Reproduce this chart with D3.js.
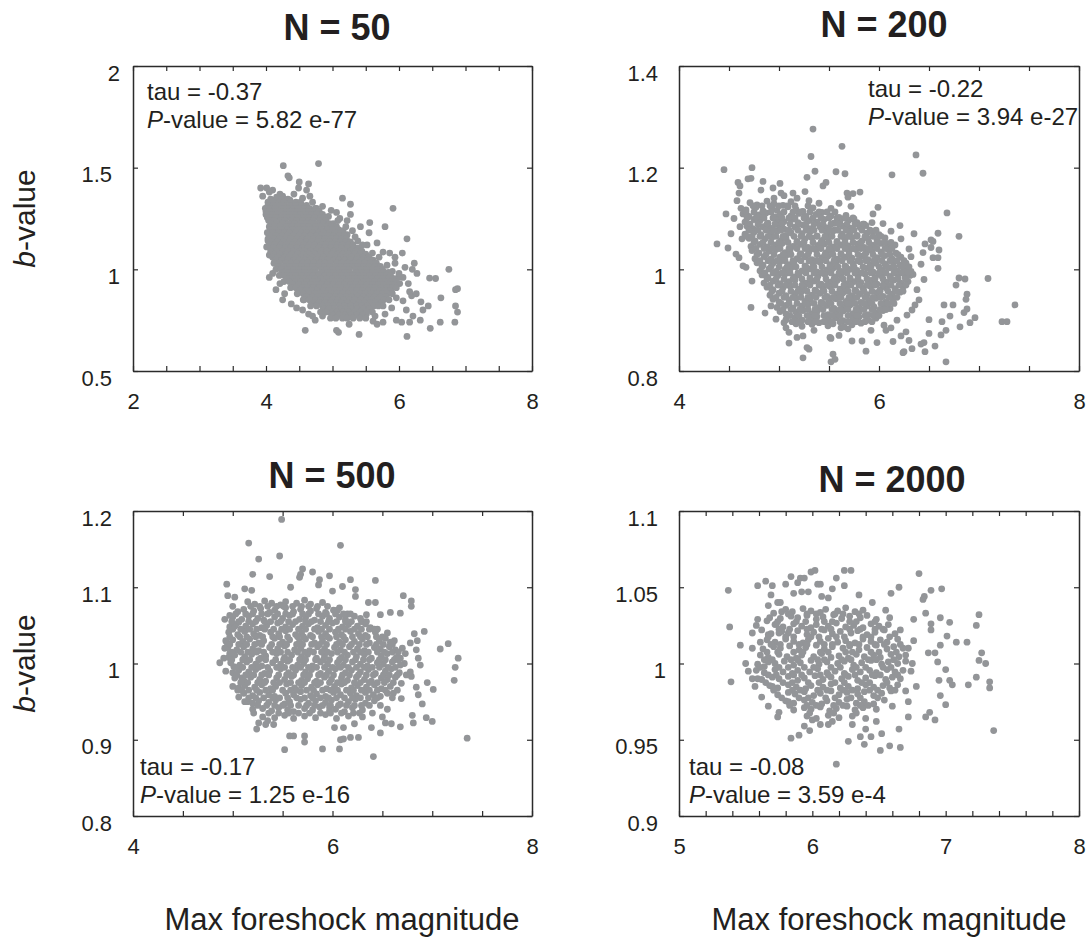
<!DOCTYPE html>
<html>
<head>
<meta charset="utf-8">
<script src="https://cdn.jsdelivr.net/npm/d3@7"></script>
<style>
  body { margin: 0; background: #fff; }
  text { font-family: "Liberation Sans", Arial, Helvetica, sans-serif; fill: #231f20; }
</style>
</head>
<body>
<script>
// ---- datos ----
const titles = ["N = 50", "N = 200", "N = 500", "N = 2000"];
const tauVals = ["-0.37", "-0.22", "-0.17", "-0.08"];
const pVals = ["5.82 e-77", "3.94 e-27", "1.25 e-16", "3.59 e-4"];
const xDomains = [[2, 8], [4, 8], [4, 8], [5, 8]];
const yDomains = [[0.5, 2], [0.8, 1.4], [0.8, 1.2], [0.9, 1.1]];
const xTickLabels = [[2, 4, 6, 8], [4, 6, 8], [4, 6, 8], [5, 6, 7, 8]];
const yTickLabels = [[0.5, 1, 1.5, 2], [0.8, 1, 1.2, 1.4], [0.8, 0.9, 1, 1.1, 1.2], [0.9, 0.95, 1, 1.05, 1.1]];
const xMinorStep = [0.5, 0.5, 0.5, 0.2];

// puntos sueltos [magnitud, b]
const p1Points = [[4.26,1.51],[4.79,1.52],[3.92,1.40],[4.01,1.40],[4.10,1.39],[4.33,1.46],[4.35,1.45],[4.50,1.43],[4.64,1.42],[4.49,1.40],[4.61,1.39],[4.66,1.36],[5.15,1.35],[5.27,1.32],[5.91,1.30],[5.06,1.28],[5.27,1.27],[5.11,1.25],[4.94,1.26],[5.22,1.24],[5.42,1.21],[5.56,1.23],[5.79,1.21],[5.55,1.18],[5.22,1.17],[5.34,1.16],[6.12,1.15],[5.67,1.13],[5.52,1.12],[5.76,1.085],[5.86,1.08],[6.05,1.08],[5.94,1.06],[6.23,1.03],[6.75,1.00],[6.46,0.957],[6.55,0.955],[6.20,1.00],[6.27,0.98],[6.88,0.905],[6.85,0.90],[6.63,0.86],[6.85,0.82],[6.88,0.79],[6.84,0.74],[6.62,0.74],[6.47,0.71],[6.12,0.67],[6.32,0.75],[6.16,0.74],[6.33,0.84],[6.44,0.82],[6.19,0.87],[6.16,0.89],[6.21,0.77],[6.04,0.74],[5.67,0.73],[5.40,0.68],[5.25,0.73],[5.09,0.69],[5.06,0.70],[4.59,0.70],[4.74,0.75],[4.85,0.77],[4.64,0.78],[4.46,0.81],[4.28,0.88],[4.21,0.93],[4.10,0.98],[4.05,1.07],[4.01,1.11],[4.03,1.14],[4.00,1.27],[4.01,1.30],[4.14,1.30],[4.06,1.24],[4.10,1.34],[4.21,1.37],[4.16,1.355],[4.36,1.34],[4.51,1.32],[4.76,1.30],[4.81,1.23],[4.91,1.19],[5.16,1.19],[5.01,1.10],[5.31,1.10],[5.46,1.075],[5.51,1.04],[5.66,1.03],[5.76,0.99],[5.86,0.96],[6.01,0.93],[6.06,0.96],[5.96,0.86],[5.89,0.81],[5.79,0.78],[5.64,0.77],[5.51,0.78],[5.36,0.79],[5.16,0.78],[4.96,0.79],[4.86,0.80],[4.56,0.85],[5.94,1.03],[6.09,1.01],[5.99,0.96],[6.14,0.93],[6.06,0.845],[6.26,0.88],[6.11,0.80],[5.96,0.75],[5.76,0.74],[6.36,0.80],[5.61,0.745],
  [3.95,1.36],[4.05,1.38],[4.25,1.36],[4.42,1.37],[4.55,1.35],[4.70,1.33],[4.85,1.31],[4.98,1.29],[5.08,1.24],[5.20,1.21],[5.30,1.19],[5.38,1.14],[5.45,1.12],[5.60,1.08],[5.70,1.06],[5.82,1.02],[5.90,0.99],[6.00,0.98],[4.05,0.96],[4.15,0.90],[4.25,0.85],[4.38,0.83],[4.55,0.80],[4.70,0.77]];

// nucleo denso del panel N = 50: [b, [magnitudes]]
const p1Rows = [
  [1.345, [4.07,4.16,4.24,4.33]],
  [1.33,  [4.03,4.10,4.20,4.27,4.37,4.45,4.52]],
  [1.315, [4.03,4.11,4.19,4.28,4.36,4.45,4.53,4.61]],
  [1.30,  [3.99,4.07,4.14,4.24,4.31,4.41,4.48,4.58,4.65,4.74]],
  [1.285, [4.00,4.05,4.14,4.22,4.31,4.39,4.47,4.56,4.64,4.73,4.80]],
  [1.27,  [4.01,4.10,4.17,4.27,4.35,4.42,4.52,4.60,4.69,4.76,4.85]],
  [1.255, [4.02,4.06,4.15,4.23,4.31,4.40,4.48,4.57,4.65,4.74,4.83,4.88]],
  [1.24,  [4.04,4.12,4.22,4.29,4.39,4.46,4.55,4.64,4.71,4.81,4.90]],
  [1.225, [4.08,4.17,4.26,4.34,4.43,4.52,4.60,4.69,4.78,4.86,4.95,5.01]],
  [1.21,  [4.05,4.14,4.21,4.31,4.39,4.48,4.57,4.64,4.74,4.81,4.91,4.98,5.06]],
  [1.195, [4.06,4.14,4.23,4.32,4.40,4.49,4.57,4.66,4.75,4.83,4.92,5.00,5.09]],
  [1.18,  [4.02,4.10,4.19,4.28,4.35,4.45,4.53,4.61,4.70,4.79,4.86,4.96,5.04,5.13]],
  [1.165, [4.06,4.15,4.24,4.32,4.41,4.50,4.58,4.67,4.76,4.84,4.93,5.02,5.10,5.18]],
  [1.15,  [4.03,4.12,4.20,4.30,4.37,4.47,4.55,4.62,4.72,4.80,4.88,4.98,5.06,5.14,5.21]],
  [1.135, [4.08,4.17,4.26,4.35,4.43,4.52,4.61,4.69,4.78,4.87,4.95,5.04,5.12,5.20,5.27]],
  [1.12,  [4.05,4.13,4.23,4.30,4.40,4.48,4.57,4.65,4.73,4.83,4.90,4.99,5.08,5.15,5.24,5.31]],
  [1.105, [4.11,4.20,4.29,4.37,4.46,4.55,4.63,4.72,4.80,4.88,4.97,5.06,5.14,5.22,5.31,5.39]],
  [1.09,  [4.07,4.16,4.25,4.33,4.41,4.51,4.58,4.67,4.76,4.84,4.92,5.02,5.09,5.18,5.27,5.35,5.44]],
  [1.075, [4.12,4.21,4.30,4.39,4.48,4.56,4.65,4.74,4.82,4.91,4.99,5.08,5.16,5.25,5.33,5.42,5.50]],
  [1.06,  [4.10,4.18,4.28,4.35,4.44,4.53,4.61,4.69,4.79,4.86,4.95,5.04,5.12,5.21,5.29,5.38,5.46,5.55]],
  [1.045, [4.14,4.24,4.33,4.42,4.50,4.59,4.67,4.76,4.85,4.93,5.02,5.10,5.19,5.27,5.36,5.44,5.53,5.61]],
  [1.03,  [4.12,4.20,4.30,4.38,4.46,4.56,4.63,4.72,4.81,4.89,4.97,5.07,5.14,5.23,5.32,5.40,5.48,5.57,5.65]],
  [1.015, [4.18,4.27,4.36,4.45,4.53,4.62,4.70,4.79,4.88,4.96,5.05,5.13,5.21,5.30,5.38,5.47,5.55,5.64,5.72]],
  [1.00,  [4.15,4.23,4.32,4.41,4.49,4.58,4.66,4.74,4.84,4.91,5.00,5.09,5.17,5.25,5.35,5.42,5.51,5.60,5.68,5.75]],
  [0.985, [4.24,4.33,4.41,4.50,4.58,4.67,4.75,4.84,4.93,5.01,5.10,5.18,5.26,5.35,5.43,5.52,5.60,5.69,5.77,5.84]],
  [0.97,  [4.20,4.28,4.38,4.45,4.54,4.63,4.71,4.79,4.89,4.96,5.05,5.14,5.22,5.30,5.40,5.47,5.56,5.65,5.73,5.81,5.87]],
  [0.955, [4.31,4.40,4.49,4.57,4.66,4.74,4.83,4.91,5.00,5.08,5.16,5.25,5.33,5.42,5.51,5.59,5.68,5.76,5.84,5.91]],
  [0.94,  [4.27,4.35,4.45,4.52,4.61,4.70,4.78,4.86,4.96,5.03,5.12,5.21,5.29,5.37,5.47,5.54,5.63,5.72,5.80,5.88,5.95]],
  [0.925, [4.41,4.50,4.58,4.67,4.75,4.84,4.92,5.01,5.10,5.18,5.27,5.35,5.43,5.52,5.60,5.69,5.77,5.86,5.93]],
  [0.91,  [4.37,4.45,4.55,4.62,4.71,4.80,4.88,4.96,5.06,5.13,5.22,5.31,5.39,5.47,5.57,5.64,5.73,5.82,5.90,5.96]],
  [0.895, [4.51,4.60,4.69,4.77,4.86,4.94,5.03,5.11,5.20,5.28,5.37,5.45,5.54,5.62,5.71,5.79,5.87]],
  [0.88,  [4.47,4.56,4.65,4.73,4.81,4.91,4.98,5.07,5.16,5.24,5.32,5.42,5.49,5.58,5.67,5.75,5.83,5.90]],
  [0.865, [4.61,4.70,4.78,4.87,4.95,5.04,5.12,5.21,5.29,5.38,5.46,5.55,5.63,5.72,5.80]],
  [0.85,  [4.57,4.65,4.75,4.82,4.91,5.00,5.08,5.16,5.26,5.33,5.42,5.51,5.59,5.67,5.77,5.85]],
  [0.835, [4.72,4.80,4.89,4.97,5.06,5.14,5.23,5.31,5.40,5.48,5.57,5.65,5.73]],
  [0.82,  [4.67,4.76,4.85,4.93,5.01,5.11,5.18,5.27,5.36,5.44,5.52,5.62,5.69,5.76]],
  [0.805, [4.86,4.95,5.03,5.12,5.20,5.29,5.37,5.46,5.55]],
  [0.79,  [4.82,4.90,5.00,5.07,5.16,5.25,5.33,5.41,5.51,5.60]],
  [0.775, [5.01,5.10,5.19,5.27,5.36,5.45]],
  [0.76,  [4.97,5.05,5.15,5.22,5.31,5.41,5.50]]
];

const p2Points = [[5.34,1.276],[5.63,1.242],[6.37,1.225],[5.32,1.222],[4.45,1.196],[4.73,1.20],[5.36,1.193],[6.44,1.189],[5.57,1.192],[5.66,1.188],[6.13,1.186],[5.28,1.181],[4.59,1.171],[4.61,1.164],[4.69,1.178],[4.72,1.179],[4.84,1.173],[5.01,1.169],[5.47,1.171],[5.44,1.164],[4.94,1.16],[4.82,1.156],[5.02,1.15],[5.14,1.15],[5.26,1.153],[5.68,1.15],[5.81,1.152],[5.74,1.149],[5.69,1.142],[5.72,1.124],[5.99,1.122],[4.58,1.135],[4.47,1.109],[6.68,1.111],[5.94,1.109],[5.67,1.106],[5.75,1.099],[5.85,1.089],[5.93,1.092],[6.04,1.09],[6.21,1.086],[6.80,1.065],[6.59,1.071],[6.52,1.058],[6.54,1.055],[6.60,1.038],[6.52,1.043],[6.44,1.033],[6.54,1.023],[6.59,1.023],[6.59,1.002],[6.32,1.025],[4.38,1.05],[4.49,1.042],[4.61,1.084],[4.60,1.023],[4.64,1.007],[4.67,1.004],[4.73,0.977],[4.72,0.925],[4.86,0.914],[6.80,0.983],[6.86,0.981],[7.09,0.982],[6.77,0.969],[7.36,0.930],[7.23,0.897],[7.28,0.897],[6.88,0.951],[6.87,0.941],[6.74,0.930],[6.65,0.930],[6.88,0.922],[6.85,0.915],[6.96,0.905],[6.91,0.895],[6.81,0.887],[6.71,0.908],[6.63,0.897],[6.67,0.880],[6.62,0.871],[6.67,0.818],[6.56,0.849],[6.50,0.874],[6.50,0.901],[6.45,0.856],[6.46,0.838],[6.42,0.853],[6.33,0.844],[6.25,0.838],[6.24,0.836],[6.30,0.860],[6.27,0.877],[6.22,0.869],[6.14,0.858],[6.07,0.880],[5.98,0.856],[5.87,0.839],[5.83,0.859],[5.73,0.859],[5.69,0.883],[5.60,0.870],[5.52,0.864],[5.51,0.866],[5.54,0.833],[5.52,0.818],[5.56,0.823],[5.24,0.826],[5.28,0.846],[5.30,0.843],[5.24,0.869],[5.18,0.866],[5.10,0.855],[5.10,0.876],[5.07,0.885],[4.97,0.902],[4.92,0.928],[6.34,0.99],[6.38,0.96],[6.36,0.93],[6.28,0.91],[6.18,0.90],[6.42,1.01],[6.30,1.04],[6.22,1.06],[6.12,1.075],[6.35,1.07],
  [4.55,1.10],[4.52,1.07],[4.57,1.03],[4.62,1.12],[4.60,1.15],[4.63,1.06],[4.95,1.14],[5.05,1.145],[5.18,1.14],[5.30,1.135],[5.40,1.13],[5.52,1.12],[5.60,1.13],[6.45,0.98],[6.40,0.94],[6.33,0.92],[6.46,1.05],[5.05,0.895],[5.35,0.88],[5.62,0.885],[5.92,0.88],[6.05,0.89],[6.12,0.885]];

// nucleo del panel N = 200
const p2Core = [
  [4.71,1.131],[4.78,1.127],[4.88,1.134],[4.95,1.129],[5.04,1.126],[5.12,1.133],
  [4.67,1.117],[4.77,1.122],[4.84,1.115],[4.93,1.120],[4.98,1.116],[5.09,1.123],[5.17,1.118],[5.24,1.114],[5.34,1.121],
  [4.64,1.109],[4.70,1.104],[4.80,1.107],[4.87,1.111],[4.96,1.103],[5.01,1.108],[5.12,1.105],[5.20,1.110],[5.27,1.104],[5.37,1.108],[5.43,1.112],[5.52,1.105],[5.60,1.102],
  [4.66,1.093],[4.75,1.098],[4.81,1.096],[4.89,1.091],[4.99,1.097],[5.05,1.094],[5.14,1.099],[5.19,1.092],[5.30,1.096],[5.38,1.093],[5.45,1.098],[5.55,1.091],[5.61,1.095],[5.70,1.097],[5.78,1.092],
  [4.68,1.085],[4.74,1.080],[4.84,1.084],[4.91,1.081],[5.00,1.086],[5.05,1.079],[5.16,1.083],[5.24,1.087],[5.31,1.080],[5.41,1.084],[5.47,1.082],[5.56,1.078],[5.64,1.085],[5.71,1.081],[5.81,1.083],[5.87,1.086],
  [4.66,1.069],[4.75,1.073],[4.82,1.068],[4.92,1.071],[4.98,1.075],[5.07,1.067],[5.12,1.072],[5.23,1.070],[5.31,1.074],[5.38,1.066],[5.48,1.071],[5.54,1.075],[5.63,1.069],[5.71,1.073],[5.78,1.067],[5.88,1.071],[5.94,1.074],[6.00,1.068],
  [4.70,1.061],[4.76,1.056],[4.86,1.060],[4.93,1.063],[5.02,1.057],[5.07,1.061],[5.18,1.055],[5.26,1.060],[5.33,1.062],[5.43,1.057],[5.49,1.061],[5.58,1.055],[5.66,1.059],[5.73,1.063],[5.83,1.056],[5.89,1.060],[5.98,1.058],[6.06,1.062],
  [4.72,1.045],[4.81,1.049],[4.88,1.044],[4.97,1.048],[5.03,1.051],[5.14,1.045],[5.22,1.049],[5.29,1.043],[5.39,1.047],[5.45,1.050],[5.54,1.044],[5.62,1.048],[5.69,1.046],[5.79,1.050],[5.85,1.043],[5.94,1.047],[6.02,1.051],[6.09,1.045],[6.16,1.048],
  [4.73,1.037],[4.80,1.032],[4.90,1.036],[4.97,1.039],[5.06,1.033],[5.11,1.037],[5.22,1.031],[5.30,1.035],[5.37,1.038],[5.47,1.033],[5.53,1.036],[5.62,1.031],[5.70,1.035],[5.77,1.039],[5.87,1.032],[5.93,1.036],[6.02,1.034],[6.10,1.038],[6.17,1.032],
  [4.76,1.021],[4.85,1.025],[4.92,1.020],[5.01,1.024],[5.07,1.027],[5.18,1.021],[5.26,1.025],[5.33,1.019],[5.43,1.023],[5.49,1.026],[5.58,1.020],[5.66,1.024],[5.73,1.022],[5.83,1.026],[5.89,1.019],[5.98,1.023],[6.06,1.027],[6.13,1.021],[6.22,1.024],
  [4.78,1.013],[4.84,1.008],[4.94,1.012],[5.01,1.015],[5.10,1.009],[5.15,1.013],[5.26,1.007],[5.34,1.011],[5.41,1.014],[5.51,1.009],[5.57,1.012],[5.66,1.007],[5.74,1.011],[5.81,1.015],[5.91,1.008],[5.97,1.012],[6.06,1.010],[6.14,1.014],[6.21,1.008],[6.27,1.012],
  [4.81,0.997],[4.90,1.001],[4.97,0.996],[5.06,1.000],[5.12,1.003],[5.23,0.997],[5.31,1.001],[5.38,0.995],[5.48,0.999],[5.54,1.002],[5.63,0.996],[5.71,1.000],[5.78,0.998],[5.88,1.002],[5.94,0.995],[6.03,0.999],[6.11,1.003],[6.18,0.997],[6.27,1.000],[6.32,0.996],
  [4.83,0.989],[4.89,0.984],[4.99,0.988],[5.06,0.991],[5.15,0.985],[5.20,0.989],[5.31,0.983],[5.39,0.987],[5.46,0.990],[5.56,0.985],[5.62,0.988],[5.71,0.983],[5.79,0.987],[5.86,0.991],[5.96,0.984],[6.02,0.988],[6.11,0.986],[6.19,0.990],[6.26,0.984],[6.31,0.988],
  [4.85,0.973],[4.94,0.977],[5.01,0.972],[5.10,0.976],[5.16,0.979],[5.27,0.973],[5.35,0.977],[5.42,0.971],[5.52,0.975],[5.58,0.978],[5.67,0.972],[5.75,0.976],[5.82,0.974],[5.92,0.978],[5.98,0.971],[6.07,0.975],[6.15,0.979],[6.22,0.973],[6.29,0.976],
  [4.88,0.965],[4.94,0.960],[5.04,0.964],[5.11,0.967],[5.20,0.961],[5.25,0.965],[5.36,0.959],[5.44,0.963],[5.51,0.966],[5.61,0.961],[5.67,0.964],[5.76,0.959],[5.84,0.963],[5.91,0.967],[6.01,0.960],[6.07,0.964],[6.16,0.962],[6.24,0.966],
  [4.91,0.949],[5.00,0.953],[5.07,0.948],[5.16,0.952],[5.22,0.955],[5.33,0.949],[5.41,0.953],[5.48,0.947],[5.58,0.951],[5.64,0.954],[5.73,0.948],[5.81,0.952],[5.88,0.950],[5.98,0.954],[6.04,0.947],[6.13,0.951],[6.21,0.955],
  [4.94,0.941],[5.00,0.936],[5.10,0.940],[5.17,0.943],[5.26,0.937],[5.31,0.941],[5.42,0.935],[5.50,0.939],[5.57,0.942],[5.67,0.937],[5.73,0.940],[5.82,0.935],[5.90,0.939],[5.97,0.943],[6.07,0.936],[6.14,0.940],
  [4.98,0.925],[5.07,0.929],[5.14,0.924],[5.23,0.928],[5.29,0.931],[5.40,0.925],[5.48,0.929],[5.55,0.923],[5.65,0.927],[5.71,0.930],[5.80,0.924],[5.88,0.928],[5.95,0.926],[6.05,0.930],[6.11,0.923],
  [5.01,0.917],[5.07,0.912],[5.17,0.916],[5.24,0.919],[5.33,0.913],[5.38,0.917],[5.49,0.911],[5.57,0.915],[5.64,0.918],[5.74,0.913],[5.80,0.916],[5.89,0.911],[5.97,0.915],[6.04,0.919],
  [5.07,0.901],[5.16,0.905],[5.23,0.900],[5.32,0.904],[5.38,0.907],[5.49,0.901],[5.57,0.905],[5.64,0.899],[5.74,0.903],[5.80,0.906],[5.89,0.900],[5.97,0.904],
  [5.17,0.893],[5.23,0.888],[5.33,0.892],[5.40,0.895],[5.49,0.889],[5.54,0.893],[5.65,0.887],[5.73,0.891],[5.82,0.894]
];

// relleno entre filas del nucleo N = 200: [b, [magnitudes]]
const p2Rows = [
  [1.125, [4.74,4.83,4.91,5.00,5.08,5.16,5.29]],
  [1.113, [4.67,4.75,4.84,4.92,5.05,5.14,5.22,5.31,5.40,5.48,5.56]],
  [1.101, [4.68,4.77,4.85,4.94,5.03,5.10,5.16,5.25,5.34,5.42,5.50,5.58,5.66,5.74]],
  [1.089, [4.71,4.79,4.88,4.96,5.03,5.11,5.20,5.27,5.35,5.44,5.52,5.60,5.68,5.76,5.84]],
  [1.077, [4.70,4.79,4.87,4.95,5.02,5.10,5.19,5.27,5.35,5.43,5.51,5.59,5.67,5.75,5.83,5.91,5.97]],
  [1.065, [4.68,4.73,4.81,4.89,4.97,5.04,5.15,5.22,5.30,5.38,5.46,5.53,5.62,5.69,5.78,5.86,5.94,6.02]],
  [1.053, [4.75,4.84,4.92,5.00,5.09,5.18,5.25,5.34,5.42,5.50,5.58,5.66,5.74,5.82,5.90,5.98,6.06,6.12]],
  [1.041, [4.77,4.85,4.93,5.01,5.10,5.18,5.26,5.34,5.42,5.50,5.58,5.66,5.74,5.82,5.90,5.98,6.06,6.13]],
  [1.029, [4.78,4.87,4.95,5.04,5.12,5.21,5.29,5.38,5.46,5.54,5.62,5.70,5.79,5.86,5.94,6.03,6.11,6.19]],
  [1.017, [4.81,4.89,4.98,5.06,5.14,5.22,5.30,5.38,5.47,5.55,5.63,5.71,5.79,5.87,5.95,6.03,6.11,6.18,6.25]],
  [1.005, [4.83,4.92,5.00,5.08,5.17,5.27,5.35,5.43,5.51,5.59,5.67,5.75,5.84,5.92,6.00,6.08,6.15,6.23,6.30]],
  [0.993, [4.86,4.94,5.03,5.11,5.19,5.27,5.35,5.43,5.52,5.60,5.68,5.76,5.83,5.92,6.00,6.07,6.15,6.23,6.29]],
  [0.981, [4.88,4.97,5.05,5.14,5.23,5.31,5.38,5.47,5.55,5.64,5.71,5.79,5.88,5.96,6.04,6.12,6.19,6.27]],
  [0.969, [4.91,4.99,5.07,5.16,5.23,5.31,5.40,5.48,5.56,5.65,5.72,5.80,5.88,5.96,6.04,6.12,6.20,6.27]],
  [0.957, [4.93,5.03,5.12,5.19,5.28,5.37,5.45,5.53,5.61,5.69,5.77,5.85,5.93,6.01,6.09,6.17,6.24]],
  [0.945, [4.97,5.05,5.14,5.22,5.29,5.37,5.46,5.54,5.62,5.70,5.78,5.86,5.94,6.02,6.10,6.18]],
  [0.933, [5.02,5.10,5.18,5.27,5.35,5.44,5.52,5.61,5.69,5.76,5.85,5.93,6.02,6.09,6.15]],
  [0.921, [5.04,5.12,5.21,5.29,5.36,5.44,5.53,5.61,5.69,5.77,5.85,5.93,6.01,6.07]],
  [0.909, [5.11,5.20,5.28,5.36,5.45,5.53,5.61,5.69,5.78,5.86,5.94,6.00]],
  [0.897, [5.13,5.20,5.29,5.37,5.45,5.53,5.61,5.69,5.77,5.86,5.93]]
];

const p3Points = [[5.49,1.189],[5.16,1.158],[6.08,1.155],[5.47,1.141],[5.26,1.137],[5.20,1.117],[5.37,1.114],[5.70,1.124],[5.80,1.120],[5.68,1.117],[5.67,1.113],[5.87,1.110],[5.97,1.115],[6.18,1.110],[6.43,1.109],[4.94,1.104],[5.12,1.098],[5.19,1.096],[5.58,1.100],[5.86,1.103],[6.00,1.095],[6.10,1.101],[6.23,1.097],[6.23,1.088],[4.95,1.089],[5.02,1.087],[6.71,1.089],[6.79,1.082],[6.79,1.075],[6.36,1.080],[6.43,1.080],[6.34,1.064],[6.48,1.064],[6.58,1.067],[6.68,1.066],[4.92,1.058],[4.97,1.063],[5.02,1.049],[5.06,1.054],[6.92,1.042],[6.82,1.039],[6.85,1.030],[6.78,1.027],[7.16,1.026],[7.08,1.019],[7.26,1.007],[7.23,0.995],[7.22,0.978],[7.35,0.902],[4.87,1.001],[4.91,1.007],[4.97,1.013],[5.01,0.996],[5.09,0.981],[5.06,0.956],[5.21,0.935],[5.26,0.922],[5.24,0.914],[5.33,0.920],[5.41,0.920],[5.52,0.887],[5.57,0.905],[5.61,0.905],[5.72,0.897],[5.72,0.905],[5.90,0.888],[6.07,0.888],[6.08,0.900],[6.11,0.901],[6.18,0.903],[6.26,0.903],[6.41,0.878],[6.48,0.909],[6.39,0.916],[6.53,0.922],[6.59,0.921],[6.68,0.917],[6.80,0.932],[6.81,0.922],[6.94,0.929],[7.00,0.924],[6.90,0.947],[6.86,0.959],[7.01,0.966],[6.95,0.975],[6.84,0.969],[6.79,0.983],[6.78,0.989],[6.69,0.974],[6.69,0.954],[6.61,0.961],[6.88,0.998],[6.86,1.007],[6.84,1.018],[6.73,1.013],[6.68,1.007],[5.97,0.943],[6.02,0.916],[6.11,0.916],[6.22,0.921],[6.55,0.94],[6.50,0.93],[5.15,0.95],[5.30,0.93],
  [5.00,1.075],[5.90,1.08],[6.05,1.07],[6.15,1.065],[6.30,1.055],[6.45,1.045],[6.55,1.04],[6.62,1.03],[6.70,1.02],[6.72,1.00],[6.74,0.985],[4.93,1.03],[4.92,1.02],[4.93,0.99],[5.00,0.97],[5.05,0.965],[5.12,0.95],[5.20,0.94],[5.35,0.925],[6.30,0.93],[6.40,0.935],[6.48,0.945],[6.60,0.955],[6.65,0.965]];

// nucleo del panel N = 500
const p3Core = [
  [5.15,1.081],[5.22,1.078],[5.32,1.082],[5.39,1.079],[5.48,1.077],[5.53,1.081],[5.64,1.079],[5.72,1.083],[5.78,1.078],
  [5.05,1.068],[5.11,1.071],[5.21,1.069],[5.28,1.072],[5.37,1.067],[5.42,1.070],[5.53,1.073],[5.61,1.068],[5.68,1.071],[5.78,1.069],[5.84,1.072],[5.93,1.067],[6.01,1.070],[6.07,1.073],
  [5.00,1.061],[5.09,1.058],[5.16,1.062],[5.25,1.059],[5.31,1.057],[5.42,1.061],[5.50,1.059],[5.57,1.063],[5.67,1.058],[5.73,1.060],[5.82,1.057],[5.90,1.062],[5.97,1.059],[6.07,1.061],[6.13,1.058],[6.22,1.062],[6.28,1.059],
  [4.97,1.048],[5.03,1.051],[5.13,1.049],[5.20,1.052],[5.29,1.047],[5.34,1.050],[5.45,1.053],[5.53,1.048],[5.60,1.051],[5.70,1.049],[5.76,1.052],[5.85,1.047],[5.93,1.050],[6.00,1.053],[6.10,1.048],[6.16,1.051],[6.25,1.049],[6.33,1.052],[6.38,1.047],
  [4.96,1.041],[5.05,1.038],[5.12,1.042],[5.21,1.039],[5.27,1.037],[5.38,1.041],[5.46,1.039],[5.53,1.043],[5.63,1.038],[5.69,1.040],[5.78,1.037],[5.86,1.042],[5.93,1.039],[6.03,1.041],[6.09,1.038],[6.18,1.042],[6.26,1.039],[6.33,1.037],[6.43,1.041],
  [4.94,1.028],[5.00,1.031],[5.10,1.029],[5.17,1.032],[5.26,1.027],[5.31,1.030],[5.42,1.033],[5.50,1.028],[5.57,1.031],[5.67,1.029],[5.73,1.032],[5.82,1.027],[5.90,1.030],[5.97,1.033],[6.07,1.028],[6.13,1.031],[6.22,1.029],[6.30,1.032],[6.37,1.027],[6.47,1.030],[6.53,1.033],[6.58,1.028],
  [4.95,1.021],[5.04,1.018],[5.11,1.022],[5.20,1.019],[5.26,1.017],[5.37,1.021],[5.45,1.019],[5.52,1.023],[5.62,1.018],[5.68,1.020],[5.77,1.017],[5.85,1.022],[5.92,1.019],[6.02,1.021],[6.08,1.018],[6.17,1.022],[6.25,1.019],[6.32,1.017],[6.42,1.021],[6.48,1.019],[6.57,1.022],[6.63,1.018],
  [4.96,1.008],[5.02,1.011],[5.12,1.009],[5.19,1.012],[5.28,1.007],[5.33,1.010],[5.44,1.013],[5.52,1.008],[5.59,1.011],[5.69,1.009],[5.75,1.012],[5.84,1.007],[5.92,1.010],[5.99,1.013],[6.09,1.008],[6.15,1.011],[6.24,1.009],[6.32,1.012],[6.39,1.007],[6.49,1.010],[6.55,1.013],[6.64,1.008],
  [4.98,1.001],[5.07,0.998],[5.14,1.002],[5.23,0.999],[5.29,0.997],[5.40,1.001],[5.48,0.999],[5.55,1.003],[5.65,0.998],[5.71,1.000],[5.80,0.997],[5.88,1.002],[5.95,0.999],[6.05,1.001],[6.11,0.998],[6.20,1.002],[6.28,0.999],[6.35,0.997],[6.45,1.001],[6.51,0.999],[6.60,1.002],[6.68,0.998],
  [5.00,0.988],[5.06,0.991],[5.16,0.989],[5.23,0.992],[5.32,0.987],[5.37,0.990],[5.48,0.993],[5.56,0.988],[5.63,0.991],[5.73,0.989],[5.79,0.992],[5.88,0.987],[5.96,0.990],[6.03,0.993],[6.13,0.988],[6.19,0.991],[6.28,0.989],[6.36,0.992],[6.43,0.987],[6.53,0.990],[6.59,0.993],[6.67,0.988],
  [5.02,0.981],[5.11,0.978],[5.18,0.982],[5.27,0.979],[5.33,0.977],[5.44,0.981],[5.52,0.979],[5.59,0.983],[5.69,0.978],[5.75,0.980],[5.84,0.977],[5.92,0.982],[5.99,0.979],[6.09,0.981],[6.15,0.978],[6.24,0.982],[6.32,0.979],[6.39,0.977],[6.49,0.981],[6.55,0.979],[6.63,0.982],
  [5.06,0.968],[5.12,0.971],[5.22,0.969],[5.29,0.972],[5.38,0.967],[5.43,0.970],[5.54,0.973],[5.62,0.968],[5.69,0.971],[5.79,0.969],[5.85,0.972],[5.94,0.967],[6.02,0.970],[6.09,0.973],[6.19,0.968],[6.25,0.971],[6.34,0.969],[6.42,0.972],[6.49,0.967],[6.58,0.970],
  [5.11,0.961],[5.20,0.958],[5.27,0.962],[5.36,0.959],[5.42,0.957],[5.53,0.961],[5.61,0.959],[5.68,0.963],[5.78,0.958],[5.84,0.960],[5.93,0.957],[6.01,0.962],[6.08,0.959],[6.18,0.961],[6.24,0.958],[6.33,0.962],[6.41,0.959],[6.48,0.957],[6.55,0.961],
  [5.20,0.948],[5.26,0.951],[5.36,0.949],[5.43,0.952],[5.52,0.947],[5.57,0.950],[5.68,0.953],[5.76,0.948],[5.83,0.951],[5.93,0.949],[5.99,0.952],[6.08,0.947],[6.16,0.950],[6.23,0.953],[6.33,0.948],[6.42,0.951],
  [5.30,0.941],[5.39,0.938],[5.46,0.942],[5.55,0.939],[5.61,0.937],[5.72,0.941],[5.80,0.939],[5.87,0.943],[5.97,0.938],[6.03,0.940],[6.12,0.937],[6.20,0.942],[6.30,0.939],
  [5.42,0.929],[5.52,0.932],[5.61,0.928],[5.72,0.931],[5.83,0.929],[5.93,0.933],[6.04,0.928],[6.16,0.931]
];

// relleno entre filas del nucleo N = 500
const p3Rows = [
  [1.075, [5.18,5.27,5.35,5.44,5.51,5.60,5.69,5.76,5.85,5.95]],
  [1.065, [5.03,5.13,5.20,5.29,5.35,5.45,5.53,5.60,5.70,5.76,5.86,5.94,6.03,6.11,6.18]],
  [1.055, [4.99,5.06,5.16,5.23,5.32,5.38,5.48,5.56,5.63,5.73,5.79,5.88,5.96,6.04,6.13,6.19,6.29,6.34]],
  [1.045, [5.00,5.08,5.17,5.24,5.32,5.41,5.49,5.57,5.66,5.73,5.82,5.89,5.97,6.06,6.13,6.22,6.29,6.37,6.42]],
  [1.035, [4.97,5.07,5.14,5.23,5.30,5.40,5.47,5.55,5.65,5.71,5.80,5.89,5.95,6.04,6.11,6.20,6.28,6.35,6.44,6.50]],
  [1.025, [4.97,5.06,5.14,5.22,5.29,5.39,5.47,5.54,5.64,5.70,5.79,5.87,5.94,6.04,6.10,6.19,6.27,6.34,6.44,6.51,6.60]],
  [1.015, [4.99,5.08,5.15,5.24,5.31,5.40,5.48,5.55,5.65,5.72,5.81,5.89,5.95,6.05,6.12,6.21,6.28,6.36,6.45,6.52,6.60,6.66]],
  [1.005, [4.99,5.10,5.17,5.26,5.33,5.43,5.51,5.57,5.67,5.73,5.83,5.91,5.97,6.07,6.13,6.23,6.31,6.37,6.47,6.53,6.62,6.66]],
  [0.995, [5.03,5.10,5.19,5.26,5.35,5.44,5.52,5.60,5.68,5.76,5.84,5.92,6.00,6.08,6.16,6.24,6.32,6.40,6.47,6.56,6.63]],
  [0.985, [5.04,5.13,5.21,5.29,5.36,5.46,5.54,5.61,5.71,5.77,5.86,5.94,6.01,6.10,6.17,6.26,6.34,6.41,6.51,6.57,6.65]],
  [0.975, [5.08,5.15,5.25,5.32,5.41,5.47,5.58,5.66,5.72,5.82,5.88,5.97,6.05,6.12,6.22,6.28,6.37,6.45,6.52,6.61]],
  [0.965, [5.09,5.16,5.24,5.33,5.40,5.50,5.58,5.64,5.74,5.81,5.90,5.98,6.05,6.14,6.21,6.29,6.37,6.45,6.53]],
  [0.955, [5.16,5.23,5.31,5.40,5.47,5.55,5.64,5.72,5.80,5.88,5.96,6.04,6.12,6.20,6.28,6.36,6.45]],
  [0.945, [5.25,5.34,5.42,5.50,5.58,5.66,5.74,5.82,5.90,5.98,6.06,6.14,6.22,6.29,6.37]],
  [0.935, [5.36,5.46,5.56,5.66,5.77,5.88,5.98,6.09,6.21,6.27]]
];

const p4Points = [[5.37,1.048],[5.38,1.024],[5.46,1.012],[5.55,1.020],[5.58,1.025],[5.59,1.029],[5.59,1.051],[5.65,1.054],[5.70,1.051],[5.69,1.045],[5.67,1.038],[5.66,1.028],[5.71,1.033],[5.77,1.034],[5.73,1.026],[5.75,1.020],[5.61,1.014],[5.67,1.019],[5.84,1.057],[5.89,1.053],[5.91,1.056],[5.94,1.056],[5.99,1.060],[6.02,1.061],[5.80,1.052],[5.86,1.046],[5.92,1.047],[5.97,1.047],[6.04,1.052],[6.06,1.052],[6.15,1.049],[6.18,1.056],[6.24,1.061],[6.29,1.061],[6.24,1.051],[6.12,1.043],[6.07,1.044],[6.80,1.059],[6.65,1.050],[6.59,1.046],[6.97,1.049],[6.89,1.048],[6.84,1.044],[6.83,1.042],[6.85,1.033],[6.96,1.030],[6.76,1.029],[7.03,1.027],[6.89,1.026],[6.89,1.022],[7.25,1.032],[7.23,1.025],[7.08,1.014],[7.16,1.014],[7.27,1.007],[7.25,1.002],[7.30,1.000],[7.23,0.991],[7.17,0.986],[7.33,0.988],[7.33,0.984],[7.36,0.956],[7.05,0.986],[7.03,0.989],[7.00,0.996],[6.95,0.989],[6.96,0.979],[7.00,0.973],[6.92,0.963],[6.88,0.968],[6.85,0.965],[6.92,1.007],[6.94,1.001],[6.96,1.012],[7.01,1.018],[6.87,1.007],[5.39,0.988],[5.55,0.990],[5.59,0.990],[5.64,0.998],[5.74,0.965],[5.82,0.975],[5.84,0.951],[5.90,0.953],[5.94,0.959],[5.98,0.956],[6.06,0.960],[6.12,0.960],[6.18,0.934],[6.27,0.949],[6.36,0.952],[6.39,0.947],[6.44,0.952],[6.40,0.957],[6.51,0.943],[6.52,0.954],[6.58,0.946],[6.66,0.945],[6.65,0.957],[6.72,0.965],[6.75,1.00],[6.78,0.985],[6.76,1.015],[6.72,0.975],[5.70,0.985],[5.76,1.040],[6.45,1.040],[6.55,1.035],
  [5.50,1.00],[5.52,0.995],[5.57,0.985],[5.62,0.978],[5.67,0.972],[5.75,0.968],[5.55,1.01],[5.62,1.022],[5.68,1.03],[5.74,1.04],[6.35,1.045],[6.58,1.03],[6.66,1.022],[6.72,1.01],[6.74,0.995],[6.70,0.982],[6.60,0.972],[6.48,0.962],[6.30,0.96],[6.15,0.962],[6.00,0.963]];

// nucleo del panel N = 2000
const p4Core = [
  [5.80,1.0355],[5.85,1.0340],[5.93,1.0360],[5.99,1.0345],[6.06,1.0335],[6.10,1.0355],[6.19,1.0345],[6.25,1.0365],[6.32,1.0340],[6.38,1.0350],
  [5.76,1.0295],[5.84,1.0310],[5.89,1.0300],[5.96,1.0315],[6.03,1.0290],[6.08,1.0305],[6.16,1.0320],[6.22,1.0295],[6.28,1.0310],[6.36,1.0300],[6.41,1.0315],[6.48,1.0290],
  [5.72,1.0255],[5.78,1.0240],[5.86,1.0260],[5.92,1.0245],[5.99,1.0235],[6.03,1.0255],[6.12,1.0245],[6.18,1.0265],[6.25,1.0240],[6.31,1.0250],[6.38,1.0235],[6.44,1.0260],[6.50,1.0245],[6.57,1.0255],
  [5.69,1.0195],[5.77,1.0210],[5.82,1.0200],[5.89,1.0215],[5.96,1.0190],[6.01,1.0205],[6.09,1.0220],[6.15,1.0195],[6.21,1.0210],[6.29,1.0200],[6.34,1.0215],[6.41,1.0190],[6.47,1.0205],[6.54,1.0220],[6.62,1.0195],
  [5.66,1.0155],[5.72,1.0140],[5.80,1.0160],[5.86,1.0145],[5.93,1.0135],[5.97,1.0155],[6.06,1.0145],[6.12,1.0165],[6.19,1.0140],[6.25,1.0150],[6.32,1.0135],[6.38,1.0160],[6.44,1.0145],[6.51,1.0155],[6.56,1.0140],[6.64,1.0160],
  [5.63,1.0095],[5.71,1.0110],[5.76,1.0100],[5.83,1.0115],[5.90,1.0090],[5.95,1.0105],[6.03,1.0120],[6.09,1.0095],[6.15,1.0110],[6.23,1.0100],[6.28,1.0115],[6.35,1.0090],[6.41,1.0105],[6.48,1.0120],[6.56,1.0095],[6.61,1.0110],[6.68,1.0100],
  [5.61,1.0055],[5.67,1.0040],[5.75,1.0060],[5.81,1.0045],[5.88,1.0035],[5.92,1.0055],[6.01,1.0045],[6.07,1.0065],[6.14,1.0040],[6.20,1.0050],[6.27,1.0035],[6.33,1.0060],[6.39,1.0045],[6.46,1.0055],[6.51,1.0040],[6.59,1.0060],[6.65,1.0045],[6.70,1.0055],
  [5.59,0.9995],[5.67,1.0010],[5.72,1.0000],[5.79,1.0015],[5.86,0.9990],[5.91,1.0005],[5.99,1.0020],[6.05,0.9995],[6.11,1.0010],[6.19,1.0000],[6.24,1.0015],[6.31,0.9990],[6.37,1.0005],[6.44,1.0020],[6.52,0.9995],[6.57,1.0010],[6.64,1.0000],[6.70,1.0015],
  [5.58,0.9955],[5.64,0.9940],[5.72,0.9960],[5.78,0.9945],[5.85,0.9935],[5.89,0.9955],[5.98,0.9945],[6.04,0.9965],[6.11,0.9940],[6.17,0.9950],[6.24,0.9935],[6.30,0.9960],[6.36,0.9945],[6.43,0.9955],[6.48,0.9940],[6.56,0.9960],[6.62,0.9945],[6.68,0.9955],
  [5.62,0.9895],[5.70,0.9910],[5.75,0.9900],[5.82,0.9915],[5.89,0.9890],[5.94,0.9905],[6.02,0.9920],[6.08,0.9895],[6.14,0.9910],[6.22,0.9900],[6.27,0.9915],[6.34,0.9890],[6.40,0.9905],[6.47,0.9920],[6.55,0.9895],[6.60,0.9910],[6.66,0.9900],
  [5.68,0.9855],[5.74,0.9840],[5.82,0.9860],[5.88,0.9845],[5.95,0.9835],[5.99,0.9855],[6.08,0.9845],[6.14,0.9865],[6.21,0.9840],[6.27,0.9850],[6.34,0.9835],[6.40,0.9860],[6.46,0.9845],[6.53,0.9855],[6.58,0.9840],[6.64,0.9860],
  [5.74,0.9795],[5.82,0.9810],[5.87,0.9800],[5.94,0.9815],[6.01,0.9790],[6.06,0.9805],[6.14,0.9820],[6.20,0.9795],[6.26,0.9810],[6.34,0.9800],[6.39,0.9815],[6.46,0.9790],[6.52,0.9805],[6.59,0.9820],
  [5.80,0.9755],[5.86,0.9740],[5.94,0.9760],[6.00,0.9745],[6.07,0.9735],[6.11,0.9755],[6.20,0.9745],[6.26,0.9765],[6.33,0.9740],[6.39,0.9750],[6.46,0.9735],[6.54,0.9760],
  [5.86,0.9695],[5.94,0.9710],[5.99,0.9700],[6.06,0.9715],[6.13,0.9690],[6.18,0.9705],[6.26,0.9720],[6.32,0.9695],[6.38,0.9710],[6.48,0.9700],
  [5.96,0.9655],[6.03,0.9640],[6.12,0.9660],[6.20,0.9645],[6.30,0.9655],[6.40,0.9640]
];

// relleno entre filas del nucleo N = 2000
const p4Rows = [
  [1.0325, [5.82,5.96,6.03,6.17,6.23,6.35]],
  [1.0275, [5.74,5.88,5.95,6.09,6.15,6.28,6.33,6.47]],
  [1.0225, [5.75,5.83,5.96,6.07,6.14,6.28,6.36,6.47,6.53]],
  [1.0175, [5.67,5.80,5.86,5.99,6.05,6.18,6.24,6.38,6.44,6.58]],
  [1.0125, [5.69,5.76,5.90,5.96,6.09,6.15,6.28,6.35,6.47,6.54,6.66]],
  [1.0075, [5.66,5.74,5.86,5.93,6.06,6.12,6.25,6.30,6.44,6.50,6.63]],
  [1.0025, [5.64,5.70,5.84,5.89,6.04,6.09,6.22,6.29,6.42,6.48,6.61]],
  [0.9975, [5.61,5.75,5.82,5.94,6.01,6.14,6.21,6.33,6.40,6.53,6.59]],
  [0.9925, [5.67,5.73,5.86,5.92,6.06,6.12,6.25,6.32,6.45,6.51,6.64]],
  [0.9875, [5.65,5.78,5.85,5.97,6.05,6.17,6.24,6.37,6.43,6.56]],
  [0.9825, [5.71,5.85,5.91,6.04,6.11,6.23,6.30,6.43,6.49,6.62]],
  [0.9775, [5.77,5.90,5.97,6.10,6.17,6.29,6.36,6.49]],
  [0.9725, [5.83,5.96,6.03,6.16,6.23,6.36,6.42]],
  [0.9675, [5.98,6.16,6.33]]
];

const flatten = rows => {
  const out = [];
  rows.forEach(([b, ms]) => ms.forEach(m => out.push([m, b])));
  return out;
};
const allPoints = [
  p1Points.concat(flatten(p1Rows)),
  p2Points.concat(p2Core, flatten(p2Rows)),
  p3Points.concat(p3Core, flatten(p3Rows)),
  p4Points.concat(p4Core, flatten(p4Rows))
];

// ---- layout ----
const width = 1088, height = 938;
const dotColor = "#939598";
const frames = [
  {x0: 133, x1: 532, y0: 66,  y1: 371, title: [337, 40],  ann: [147, 100]},
  {x0: 679, x1: 1079, y0: 66, y1: 371, title: [884, 37],  ann: [868, 97]},
  {x0: 133, x1: 532, y0: 511, y1: 816, title: [332, 488], ann: [140, 775]},
  {x0: 679, x1: 1079, y0: 511, y1: 816, title: [892, 492], ann: [689, 775]}
];

const svg = d3.select("body").append("svg")
  .attr("width", width)
  .attr("height", height);

frames.forEach((f, i) => {
  const x = d3.scaleLinear().domain(xDomains[i]).range([f.x0, f.x1]);
  const y = d3.scaleLinear().domain(yDomains[i]).range([f.y1, f.y0]);
  const g = svg.append("g");

  const minor = d3.range(xDomains[i][0], xDomains[i][1] + 1e-9, xMinorStep[i]);
  const fmt = v => {
    const hit = xTickLabels[i].find(t => Math.abs(t - v) < 1e-6);
    return hit === undefined ? "" : String(hit);
  };

  // puntos
  g.append("g").selectAll("circle")
    .data(allPoints[i])
    .join("circle")
    .attr("cx", d => x(d[0]))
    .attr("cy", d => y(d[1]))
    .attr("r", 3.4)
    .attr("fill", dotColor);

  // ejes (ticks hacia dentro)
  const axB = g.append("g").attr("transform", `translate(0,${f.y1})`)
    .call(d3.axisBottom(x).tickValues(minor).tickFormat(fmt).tickSizeInner(-5).tickSizeOuter(0).tickPadding(22));
  const axT = g.append("g").attr("transform", `translate(0,${f.y0})`)
    .call(d3.axisTop(x).tickValues(minor).tickFormat("").tickSizeInner(-5).tickSizeOuter(0));
  const axL = g.append("g").attr("transform", `translate(${f.x0},0)`)
    .call(d3.axisLeft(y).tickValues(yTickLabels[i]).tickFormat(d => String(d)).tickSizeInner(-5).tickSizeOuter(0));
  const axR = g.append("g").attr("transform", `translate(${f.x1},0)`)
    .call(d3.axisRight(y).tickValues(yTickLabels[i]).tickFormat("").tickSizeInner(-5).tickSizeOuter(0));

  [axB, axT, axL, axR].forEach(a => {
    a.select(".domain").attr("stroke", "#2b2b2b").attr("stroke-width", 1.5);
    a.selectAll(".tick line").attr("stroke", "#2b2b2b").attr("stroke-width", 1.2);
  });
  axB.selectAll("text").style("font-size", "22px").attr("fill", "#231f20");
  axL.selectAll("text")
    .style("font-size", "22px").attr("fill", "#231f20")
    .attr("x", d => Number.isInteger(d) ? -13 : -21)
    .attr("dy", "0.64em");
  g.selectAll("g").attr("font-family", null).attr("font-size", null);

  // titulo
  g.append("text")
    .attr("x", f.title[0]).attr("y", f.title[1])
    .attr("text-anchor", "middle")
    .style("font-size", "36px").style("font-weight", "bold")
    .text(titles[i]);

  // tau y P-value
  g.append("text")
    .attr("x", f.ann[0]).attr("y", f.ann[1])
    .style("font-size", "24px")
    .text(`tau = ${tauVals[i]}`);
  const pt = g.append("text")
    .attr("x", f.ann[0]).attr("y", f.ann[1] + 28)
    .style("font-size", "24px");
  pt.append("tspan").style("font-style", "italic").text("P");
  pt.append("tspan").text(`-value = ${pVals[i]}`);
});

// etiquetas de ejes
[218.5, 663.5].forEach(cy => {
  const t = svg.append("text")
    .attr("transform", `translate(35,${cy}) rotate(-90)`)
    .attr("text-anchor", "middle")
    .style("font-size", "30px");
  t.append("tspan").style("font-style", "italic").text("b");
  t.append("tspan").text("-value");
});
[342, 889].forEach(cx => {
  svg.append("text")
    .attr("x", cx).attr("y", 930)
    .attr("text-anchor", "middle")
    .style("font-size", "31px")
    .text("Max foreshock magnitude");
});
</script>
</body>
</html>
